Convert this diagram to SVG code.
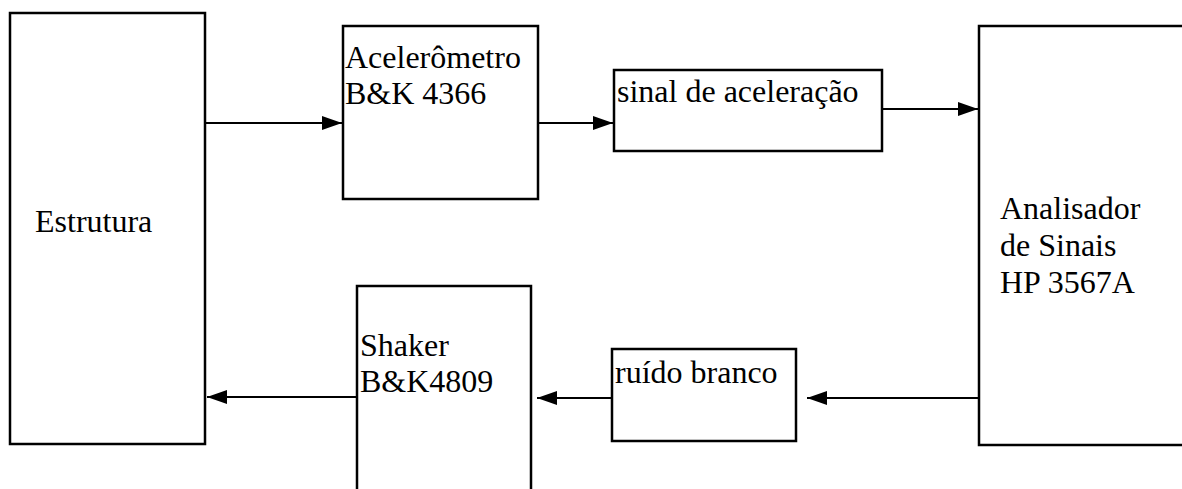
<svg xmlns="http://www.w3.org/2000/svg" width="1182" height="489" viewBox="0 0 1182 489">
<style>
.box{fill:#fff;stroke:#000;stroke-width:2.5}
.lbl{font-family:"Liberation Serif","Times New Roman",serif;font-size:32px;fill:#000}
.conn{stroke:#000;stroke-width:2;fill:none}
</style>
<defs>
<marker id="ah" viewBox="0 0 20 14" refX="20" refY="7" markerWidth="20" markerHeight="14" markerUnits="userSpaceOnUse" orient="auto">
<path d="M0,0 L20,7 L0,14 Z" fill="#000"/>
</marker>
</defs>
<rect width="1182" height="489" fill="#fff"/>
<g id="estrutura">
<rect class="box" x="10" y="13" width="195" height="431"/>
<text class="lbl" x="35" y="232">Estrutura</text>
</g>
<g id="acelerometro">
<rect class="box" x="343" y="26" width="195" height="173"/>
<text class="lbl" x="345" y="68">Acelerômetro</text>
<text class="lbl" x="345" y="104">B&amp;K 4366</text>
</g>
<g id="sinal">
<rect class="box" x="614" y="70" width="268" height="81"/>
<text class="lbl" x="617" y="102">sinal de aceleração</text>
</g>
<g id="analisador">
<rect class="box" x="979" y="26" width="215" height="419"/>
<text class="lbl" x="1000" y="219">Analisador</text>
<text class="lbl" x="1000" y="256">de Sinais</text>
<text class="lbl" x="1000" y="293">HP 3567A</text>
</g>
<g id="shaker">
<rect class="box" x="357" y="286" width="174" height="220"/>
<text class="lbl" x="360" y="356">Shaker</text>
<text class="lbl" x="360" y="392">B&amp;K4809</text>
</g>
<g id="ruido">
<rect class="box" x="612" y="349" width="184" height="92"/>
<text class="lbl" x="615" y="383">ruído branco</text>
</g>
<g id="connectors">
<path class="conn" d="M205,123 H342" marker-end="url(#ah)"/>
<path class="conn" d="M538,123 H613" marker-end="url(#ah)"/>
<path class="conn" d="M882,109 H978" marker-end="url(#ah)"/>
<path class="conn" d="M979,398 H807" marker-end="url(#ah)"/>
<path class="conn" d="M612,398 H537" marker-end="url(#ah)"/>
<path class="conn" d="M357,397 H207" marker-end="url(#ah)"/>
</g>
</svg>
